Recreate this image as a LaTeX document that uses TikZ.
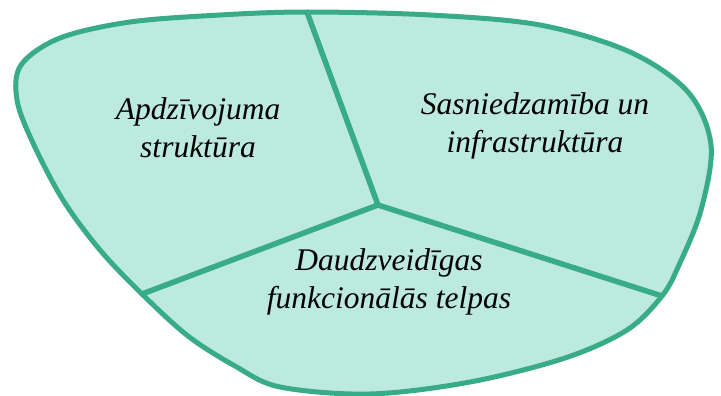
\documentclass[tikz,border=0pt]{standalone}
\usepackage{fontspec}
\setmainfont{Liberation Serif}
\definecolor{blobgreen}{HTML}{38AB87}
\definecolor{blobfill}{HTML}{BDEADE}
\begin{document}
\begin{tikzpicture}[x=1pt,y=-1pt,
        part/.style={font=\fontsize{31.5}{38}\selectfont\itshape,align=center,inner sep=0pt},
        divider/.style={draw=blobgreen,line width=5.5pt}]
    \useasboundingbox (0,0) rectangle (721,396);
    \coordinate (mid) at (378,205);
    \coordinate (top) at (307,12);
    \coordinate (lft) at (142,294);
    \coordinate (rgt) at (662,296);

    % the blob
    \fill[blobfill] plot[smooth cycle,tension=0.55] coordinates {(307,12) (430,15) (540,25) (630,52) (688,92) (711,145) (701,210) (679,265) (662,296) (627,330) (565,358) (470,382) (370,394) (280,387) (235,366) (188,336) (142,294) (100,250) (63,200) (33,143) (17,100) (21,65) (60,38) (130,22) (220,15)};

    \draw[divider] (mid) -- (top);
    \draw[divider] (mid) -- (lft);
    \draw[divider] (mid) -- (rgt);

    \draw[blobgreen,line width=5pt] plot[smooth cycle,tension=0.55] coordinates {(307,12) (430,15) (540,25) (630,52) (688,92) (711,145) (701,210) (679,265) (662,296) (627,330) (565,358) (470,382) (370,394) (280,387) (235,366) (188,336) (142,294) (100,250) (63,200) (33,143) (17,100) (21,65) (60,38) (130,22) (220,15)};

    \node[part] (apdz) at (198,128) {Apdzīvojuma\\struktūra};
    \node[part] (sasn) at (535,126) {Sasniedzamība un\\infrastruktūra};
    \node[part] (daud) at (389,282) {Daudzveidīgas\\funkcionālās telpas};
\end{tikzpicture}
\end{document}
